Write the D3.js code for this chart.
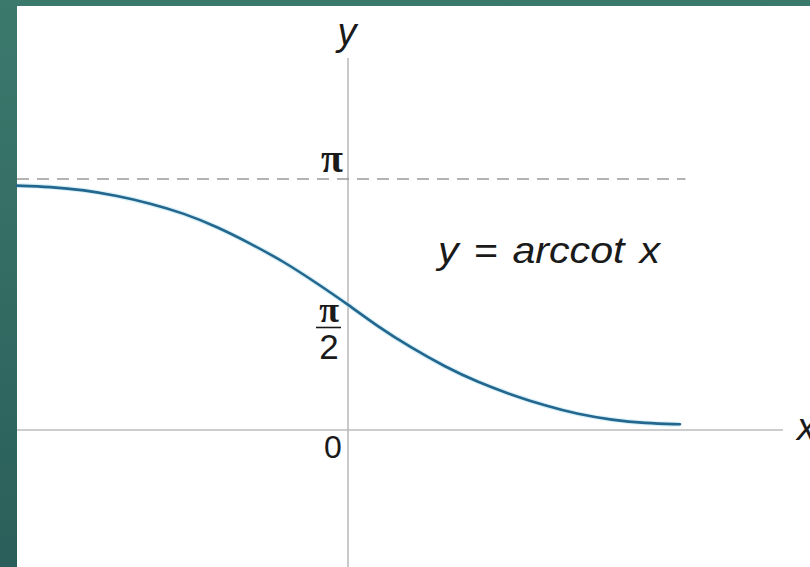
<!DOCTYPE html>
<html>
<head>
<meta charset="utf-8">
<script src="https://cdn.jsdelivr.net/npm/d3@7"></script>
<style>
  html, body { margin: 0; padding: 0; background: #fff; }
  svg { display: block; }
</style>
</head>
<body>
<svg id="chart" width="810" height="567"></svg>
<script>
// Sampled points of y = arccot x (x, y in radians)
const curveX = [-4.413, -3.973, -3.520, -3.080, -2.640, -2.187, -1.747, -1.307, -0.853, -0.413, 0, 0.400, 0.853, 1.293, 1.733, 2.187, 2.627, 3.067, 3.520, 3.960, 4.427];
const curveY = [3.058, 3.045, 3.004, 2.932, 2.837, 2.712, 2.544, 2.337, 2.106, 1.836, Math.PI / 2, 1.293, 1.023, 0.792, 0.597, 0.438, 0.304, 0.196, 0.125, 0.084, 0.071];
const asymptote = Math.PI;
const tickValues = [0, Math.PI / 2, Math.PI];
const tickLabels = ["0", "π/2", "π"];
const axisLabels = { x: "x", y: "y" };
const formulaWords = ["y", "=", "arccot", "x"];

const W = 810, H = 567;
const svg = d3.select("#chart");

// frame: teal border with white panel
const defs = svg.append("defs");
const grad = defs.append("linearGradient").attr("id", "frame").attr("x1", 0).attr("y1", 0).attr("x2", 0).attr("y2", 1);
grad.append("stop").attr("offset", "0%").attr("stop-color", "#3c796d");
grad.append("stop").attr("offset", "100%").attr("stop-color", "#2a5e5a");
svg.append("rect").attr("width", W).attr("height", H).attr("fill", "url(#frame)");
svg.append("rect").attr("x", 17).attr("y", 6).attr("width", W - 17).attr("height", H - 6).attr("fill", "#fff");

const x = d3.scaleLinear().domain([-4.4, 5.8]).range([18, 783]);
const y = d3.scaleLinear().domain([-1.715, 4.656]).range([567, 58]);

const axisColor = "#bcbcbc";
// x axis
svg.append("line")
  .attr("x1", 17).attr("x2", x(5.8))
  .attr("y1", y(0)).attr("y2", y(0))
  .attr("stroke", axisColor).attr("stroke-width", 1.6);
// y axis
svg.append("line")
  .attr("x1", x(0)).attr("x2", x(0))
  .attr("y1", y(4.656)).attr("y2", H)
  .attr("stroke", axisColor).attr("stroke-width", 1.6);

// horizontal asymptote y = π
svg.append("line")
  .attr("x1", 17).attr("x2", x(4.5))
  .attr("y1", y(asymptote)).attr("y2", y(asymptote))
  .attr("stroke", "#9a9a9a").attr("stroke-width", 1.5)
  .attr("stroke-dasharray", "12,8");

// curve (B-spline through the samples keeps it smooth)
const pts = curveX.map((v, i) => [v, curveY[i]]);
const line = d3.line().x(d => x(d[0])).y(d => y(d[1])).curve(d3.curveBasis);
svg.append("path").datum(pts)
  .attr("d", line)
  .attr("fill", "none")
  .attr("stroke", "#bfe6f2").attr("stroke-width", 5).attr("opacity", 0.6);
svg.append("path").datum(pts)
  .attr("d", line)
  .attr("fill", "none")
  .attr("stroke", "#23678f").attr("stroke-width", 2.6)
  .attr("stroke-linecap", "round");

const sans = "'Liberation Sans', Arial, sans-serif";
const serif = "'Liberation Serif', 'Times New Roman', serif";
const ink = "#1a1a1a";

// tick labels on the y axis
const lx = x(0) - 15;
// 0
svg.append("text").attr("x", lx).attr("y", y(tickValues[0]) + 28)
  .attr("text-anchor", "middle").attr("font-family", sans).attr("font-size", 32)
  .attr("fill", ink).text(tickLabels[0]);
// π/2 as a stacked fraction
const [num, den] = tickLabels[1].split("/");
const fy = y(tickValues[1]);
svg.append("text").attr("x", lx - 4).attr("y", fy + 18)
  .attr("text-anchor", "middle").attr("font-family", serif).attr("font-size", 36)
  .attr("font-weight", "bold").attr("fill", ink).text(num);
svg.append("line").attr("x1", lx - 17).attr("x2", lx + 8)
  .attr("y1", fy + 23).attr("y2", fy + 23)
  .attr("stroke", ink).attr("stroke-width", 1.6);
svg.append("text").attr("x", lx - 4).attr("y", fy + 55)
  .attr("text-anchor", "middle").attr("font-family", sans).attr("font-size", 35)
  .attr("fill", ink).text(den);
// π
svg.append("text").attr("x", lx - 1).attr("y", y(tickValues[2]) - 7)
  .attr("text-anchor", "middle").attr("font-family", serif).attr("font-size", 40)
  .attr("font-weight", "bold").attr("fill", ink).text(tickLabels[2]);

// axis labels
svg.append("text").attr("x", x(0) - 1).attr("y", 45)
  .attr("text-anchor", "middle").attr("font-family", sans).attr("font-style", "italic")
  .attr("font-size", 38).attr("fill", ink).text(axisLabels.y);
svg.append("text").attr("x", 797).attr("y", y(0) + 10)
  .attr("font-family", sans).attr("font-style", "italic")
  .attr("font-size", 38).attr("fill", ink).text(axisLabels.x);

// formula
svg.append("text").attr("x", 438).attr("y", 263)
  .attr("font-family", sans).attr("font-style", "italic")
  .attr("font-size", 36).attr("word-spacing", 3)
  .attr("textLength", 222).attr("lengthAdjust", "spacingAndGlyphs")
  .attr("fill", ink).text(formulaWords.join(" "));
</script>
</body>
</html>
